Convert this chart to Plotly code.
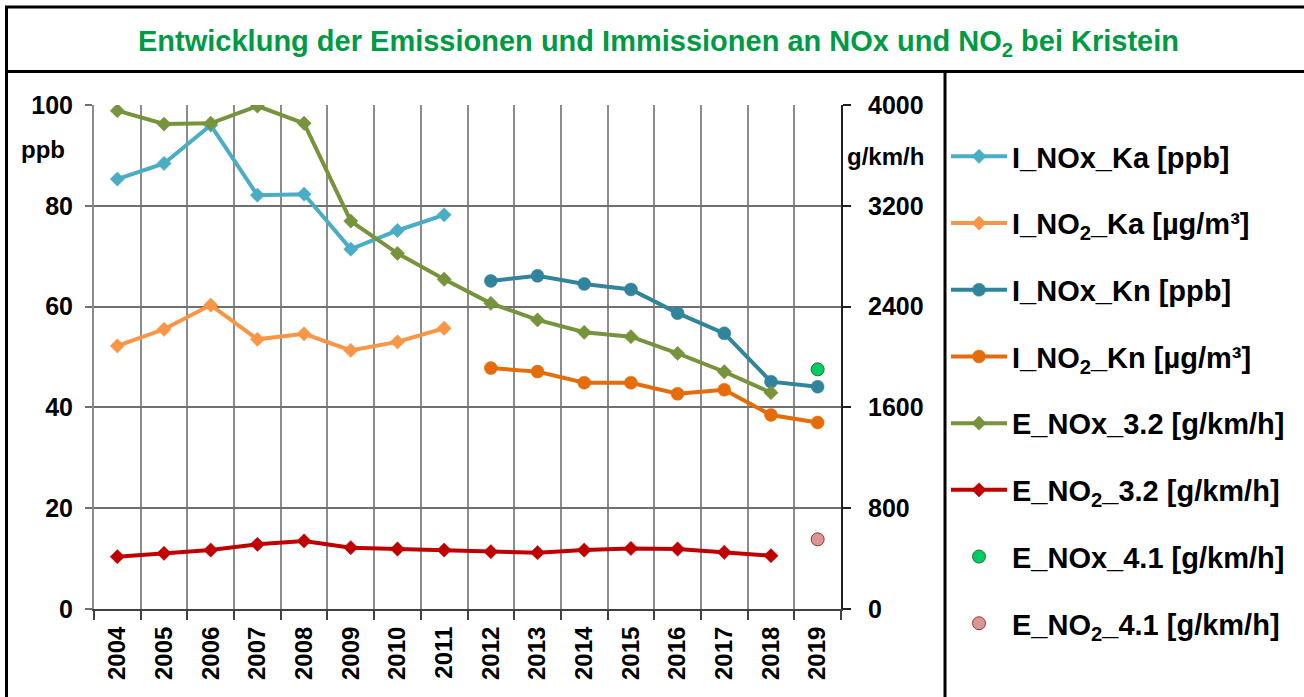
import plotly.graph_objects as go

# ---------------- data ----------------
years_all = list(range(2004, 2020))
years_ka = list(range(2004, 2012))
years_kn = list(range(2012, 2020))
years_e32 = list(range(2004, 2019))
years_e41 = [2019]

i_nox_ka = [85.3, 88.4, 96.0, 82.1, 82.3, 71.4, 75.1, 78.2]          # ppb
i_no2_ka = [52.2, 55.5, 60.3, 53.5, 54.6, 51.3, 53.0, 55.7]          # µg/m³
i_nox_kn = [65.1, 66.1, 64.5, 63.4, 58.7, 54.7, 45.1, 44.1]          # ppb
i_no2_kn = [47.8, 47.1, 44.9, 44.9, 42.7, 43.5, 38.5, 37.0]          # µg/m³
e_nox_32 = [3955, 3849, 3855, 3992, 3855, 3079, 2823, 2617, 2426, 2294,
            2196, 2161, 2029, 1883, 1717]                             # g/km/h
e_no2_32 = [415, 442, 468, 513, 540, 487, 476, 468, 455, 447,
            468, 481, 476, 450, 423]                                  # g/km/h
e_nox_41 = [1902]
e_no2_41 = [553]

year_labels = [str(y) for y in years_all]
left_ticks = [0, 20, 40, 60, 80, 100]
right_ticks = [0, 800, 1600, 2400, 3200, 4000]

# ---------------- layout geometry ----------------
W, H = 1304, 697
L, R, T, B = 94, 463, 105, 88
PW, PH = W - L - R, H - T - B


def px(x):
    return (x - L) / PW


def py(y):
    return (H - B - y) / PH


FONT = "Liberation Sans, Arial, sans-serif"

fig = go.Figure()


def add_line(x, y, name, color, symbol, size, axis):
    fig.add_trace(go.Scatter(
        x=x, y=y, name=name, mode="lines+markers",
        line=dict(color=color, width=4),
        marker=dict(symbol=symbol, size=size, color=color,
                    line=dict(color=color, width=0.5)),
        yaxis=axis, legendgroup=name,
    ))


add_line(years_ka, i_nox_ka, "I_NOx_Ka [ppb]", "#4BACC6", "diamond", 11, "y")
add_line(years_ka, i_no2_ka, "I_NO<sub>2</sub>_Ka [µg/m³]", "#F79646", "diamond", 11, "y")
add_line(years_kn, i_nox_kn, "I_NOx_Kn [ppb]", "#31849B", "circle", 13, "y")
add_line(years_kn, i_no2_kn, "I_NO<sub>2</sub>_Kn [µg/m³]", "#E46C0A", "circle", 13, "y")
add_line(years_e32, e_nox_32, "E_NOx_3.2 [g/km/h]", "#77933C", "diamond", 11, "y2")
add_line(years_e32, e_no2_32, "E_NO<sub>2</sub>_3.2 [g/km/h]", "#C00000", "diamond", 11, "y2")

fig.add_trace(go.Scatter(
    x=years_e41, y=e_nox_41, name="E_NOx_4.1 [g/km/h]", mode="markers",
    marker=dict(symbol="circle", size=13, color="#00CC66",
                line=dict(color="#2E6B30", width=1)),
    yaxis="y2", legendgroup="e_nox_41"))
fig.add_trace(go.Scatter(
    x=years_e41, y=e_no2_41, name="E_NO<sub>2</sub>_4.1 [g/km/h]", mode="markers",
    marker=dict(symbol="circle", size=13, color="#D99694",
                line=dict(color="#943634", width=1)),
    yaxis="y2", legendgroup="e_no2_41"))

ytick_font = dict(family=FONT, size=25, color="black", weight="bold")
xtick_font = dict(family=FONT, size=24, color="black", weight="bold")
grid_col = "#8C8C8C"

fig.update_layout(
    width=W, height=H,
    margin=dict(l=L, r=R, t=T, b=B, autoexpand=False),
    paper_bgcolor="white", plot_bgcolor="white",
    title=dict(
        text="Entwicklung der Emissionen und Immissionen an NOx und NO<sub>2</sub> bei Kristein",
        x=0.505, xanchor="center", y=1 - 41 / H, yanchor="middle",
        font=dict(family=FONT, size=29, color="#009A44", weight="bold")),
    xaxis=dict(
        range=[2003.5, 2019.5], tickmode="array", tickvals=years_all,
        ticktext=year_labels, tickangle=-90, ticks="", showgrid=False,
        tickfont=xtick_font, ticklabelstandoff=6,
        showline=True, linecolor="#404040", linewidth=2, zeroline=False,
        minor=dict(tickmode="array",
                   tickvals=[y - 0.5 for y in years_all] + [2019.5],
                   showgrid=True, gridcolor=grid_col, gridwidth=2,
                   ticks="outside", ticklen=9, tickwidth=2, tickcolor="#404040"),
    ),
    yaxis=dict(
        range=[0, 100], tickmode="array", tickvals=left_ticks,
        showgrid=True, gridcolor="#707070", gridwidth=2,
        ticks="outside", ticklen=7, tickwidth=2, tickcolor="#707070",
        tickfont=ytick_font, ticklabelstandoff=7,
        showline=True, linecolor=grid_col, linewidth=2, zeroline=False,
    ),
    yaxis2=dict(
        range=[0, 4000], tickmode="array", tickvals=right_ticks,
        overlaying="y", side="right", showgrid=False,
        ticks="outside", ticklen=8, tickwidth=2, tickcolor="#202020",
        tickfont=ytick_font, ticklabelstandoff=12,
        showline=True, linecolor="#202020", linewidth=2, zeroline=False,
    ),
    legend=dict(
        x=px(946), xanchor="left", y=py(131), yanchor="top",
        font=dict(family=FONT, size=29, color="black", weight="bold"),
        traceorder="grouped", tracegroupgap=26,
        bgcolor="rgba(0,0,0,0)", itemwidth=56, maxheight=690,
    ),
    showlegend=True,
)

# axis unit labels
fig.add_annotation(text="ppb", x=px(43), y=py(149), xref="paper", yref="paper",
                   showarrow=False, xanchor="center", yanchor="middle",
                   font=dict(family=FONT, size=24, color="black", weight="bold"))
fig.add_annotation(text="g/km/h", x=px(885), y=py(156), xref="paper", yref="paper",
                   showarrow=False, xanchor="center", yanchor="middle",
                   font=dict(family=FONT, size=24, color="black", weight="bold"))

# frame lines
frame = dict(color="black", width=3)
for x0, y0, x1, y1 in [
    (5, 7, W, 7),          # top border
    (5, 71.5, W, 71.5),    # under title
    (6.5, 6, 6.5, H),      # left border
    (945, 71.5, 945, H),   # divider plot / legend
]:
    fig.add_shape(type="line", xref="paper", yref="paper",
                  x0=px(x0), y0=py(y0), x1=px(x1), y1=py(y1), line=frame)

fig.write_html("out.html",
               config={"displayModeBar": False},
               post_script="document.body.style.margin='0px';"
                           "document.body.style.overflow='hidden';")
